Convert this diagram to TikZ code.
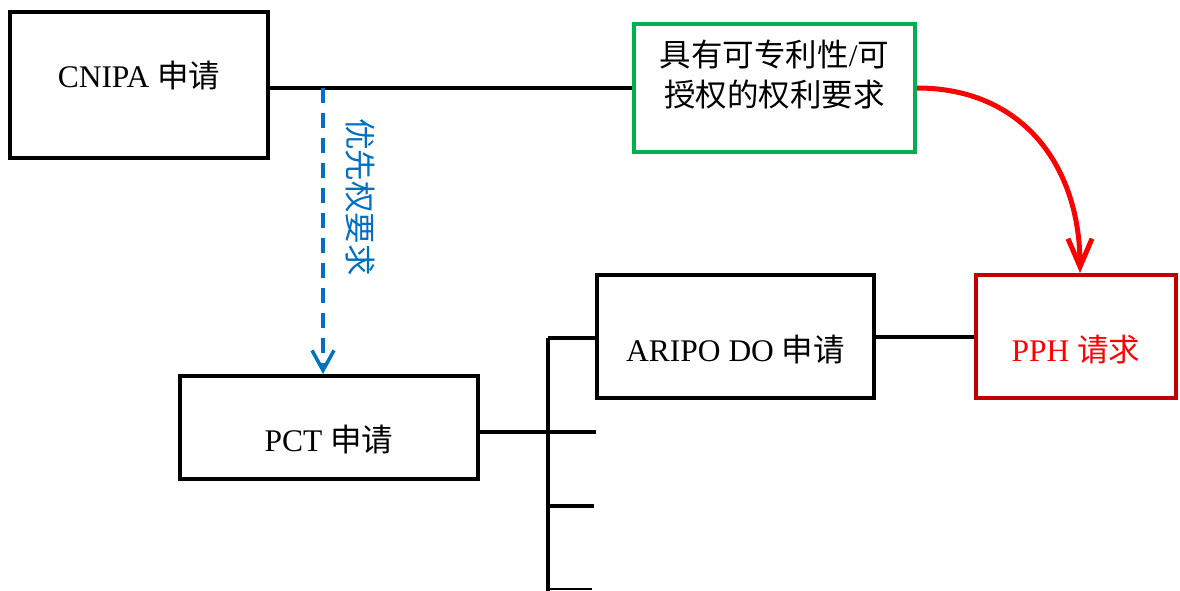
\documentclass[tikz,border=0pt]{standalone}
\usepackage{fontspec}
\setmainfont{Liberation Serif}
\newfontfamily\cjk{Noto Sans CJK SC}
\usetikzlibrary{arrows.meta}
\definecolor{oblue}{HTML}{0070C0}
\definecolor{ogreen}{HTML}{00B050}
\definecolor{dred}{HTML}{C00000}
\tikzset{
  box/.style={draw, line width=4pt, inner sep=0pt, fill=white},
  txt/.style={inner sep=0pt, font=\fontsize{31.5}{40}\selectfont, align=center},
  conn/.style={line width=4pt},
}
\begin{document}
\begin{tikzpicture}[x=1pt,y=-1pt]
\useasboundingbox[fill=white] (0,0) rectangle (1180,591);
% boxes
\node[box, minimum width=258pt, minimum height=146pt] (cnipa) at (139,85) {};
\node[box, draw=ogreen, minimum width=281pt, minimum height=128pt] (green) at (774.5,88) {};
\node[box, minimum width=298pt, minimum height=103pt] (pct) at (329,427.5) {};
\node[box, minimum width=277pt, minimum height=123pt] (aripo) at (735.5,336.5) {};
\node[box, draw=dred, minimum width=200pt, minimum height=123pt] (pph) at (1076,336.5) {};
% texts
\node[txt] (cnipaT) at (139,76) {CNIPA {\cjk 申请}};
\node[txt] (greenT) at (774.5,75) {{\cjk 具有可专利性}/{\cjk 可}\\{\cjk 授权的权利要求}};
\node[txt] (pctT) at (329,440) {PCT {\cjk 申请}};
\node[txt] (aripoT) at (735.5,350) {ARIPO DO {\cjk 申请}};
\node[txt, text=red] (pphT) at (1076,350) {PPH {\cjk 请求}};
\node[txt, text=oblue, rotate=-90] (prio) at (360,197) {\cjk 优先权要求};
% connectors
\draw[conn] (cnipa.east |- green.west) -- (green.west);
\coordinate (split) at (323,88);
\draw[line width=3.5pt, oblue, dash pattern=on 15pt off 10pt,
  -{Straight Barb[length=20pt,width=22pt,line width=3.5pt]}]
  (split) -- (pct.north -| split);
\coordinate (btop) at (548,338);
\coordinate (bbot) at (548,591);
\draw[conn] (btop) -- (bbot);
\draw[conn] (btop) -- (aripo.west |- btop);
\draw[conn] (pct.east |- 0,432) -- (596,432);
\coordinate (b3) at (548,506);
\draw[conn] (b3) -- (594,506);
\coordinate (b4) at (548,589);
\draw[line width=2pt] (b4) -- (592,589);
\draw[conn] (aripo.east) -- (pph.west);
\draw[line width=5pt, red, -{Straight Barb[length=28pt,width=24pt,line width=5pt]}]
  (green.east) to[out=0,in=90,looseness=1.1] ([xshift=4pt]pph.north);
\end{tikzpicture}
\end{document}
